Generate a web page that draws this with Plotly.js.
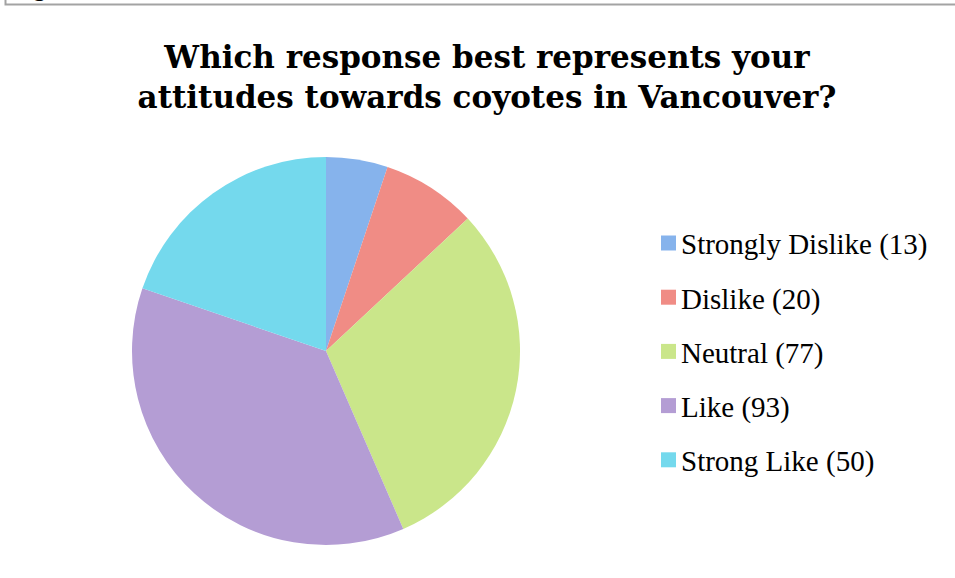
<!DOCTYPE html>
<html>
<head>
<meta charset="utf-8">
<script src="https://cdn.plot.ly/plotly-3.0.1.min.js"></script>
<style>html,body{margin:0;padding:0;background:#fff;}#chart{width:955px;height:578px;}</style>
</head>
<body>
<div id="chart"></div>
<script>
var categories = ["Strongly Dislike", "Dislike", "Neutral", "Like", "Strong Like"];
var counts = [13, 20, 77, 93, 50];
var colors = ["#86b3ec", "#f08c85", "#cae68a", "#b49dd4", "#74d9ed"];
var titleText = "Which response best represents your<br>attitudes towards coyotes in Vancouver?";

var W = 955, H = 578;
function px(x) { return x / W; }
function py(y) { return 1 - y / H; }

var legendLabels = categories.map(function (c, i) { return c + " (" + counts[i] + ")"; });

var trace = {
  type: "pie",
  labels: legendLabels,
  values: counts,
  sort: false,
  direction: "clockwise",
  rotation: 0,
  textinfo: "none",
  hoverinfo: "label+value+percent",
  marker: { colors: colors, line: { width: 0 } },
  domain: { x: [px(132), px(520)], y: [py(545), py(157)] },
  showlegend: false
};

var annotations = [];
var shapes = [];
var legX = 661, legY0 = 243, legStep = 54.2, sq = 15;
legendLabels.forEach(function (lab, i) {
  var cy = legY0 + i * legStep;
  shapes.push({
    type: "rect", xref: "paper", yref: "paper",
    x0: px(legX), x1: px(legX + sq), y0: py(cy + sq / 2), y1: py(cy - sq / 2),
    fillcolor: colors[i], line: { width: 0 }
  });
  annotations.push({
    xref: "paper", yref: "paper", x: px(legX + sq + 3), y: py(cy + 2),
    xanchor: "left", yanchor: "middle", showarrow: false, text: lab,
    font: { family: "Liberation Serif, serif", size: 29, color: "#000" }
  });
});

// chart border
shapes.push({
  type: "path", xref: "paper", yref: "paper",
  path: "M " + px(5.5) + " " + py(-10) + " L " + px(5.5) + " " + py(4.5) + " L " + px(965) + " " + py(4.5),
  line: { color: "#a3a3a3", width: 2 }
});

// cut-off text fragment above the chart frame
annotations.push({
  xref: "paper", yref: "paper", x: px(31), y: py(4), xanchor: "left", yanchor: "bottom",
  showarrow: false, text: "g", font: { family: "Liberation Serif, serif", size: 26, color: "#000" }
});

var layout = {
  width: W, height: H,
  margin: { l: 0, r: 0, t: 0, b: 0 },
  paper_bgcolor: "#fff",
  title: {
    text: titleText,
    font: { family: "DejaVu Serif, serif", size: 31, color: "#000", weight: "bold" },
    x: px(487), xanchor: "center", xref: "container",
    y: 1 - 68 / H, yanchor: "top", yref: "container"
  },
  showlegend: false,
  shapes: shapes,
  annotations: annotations
};

Plotly.newPlot("chart", [trace], layout, { displayModeBar: false, staticPlot: true });
</script>
</body>
</html>
